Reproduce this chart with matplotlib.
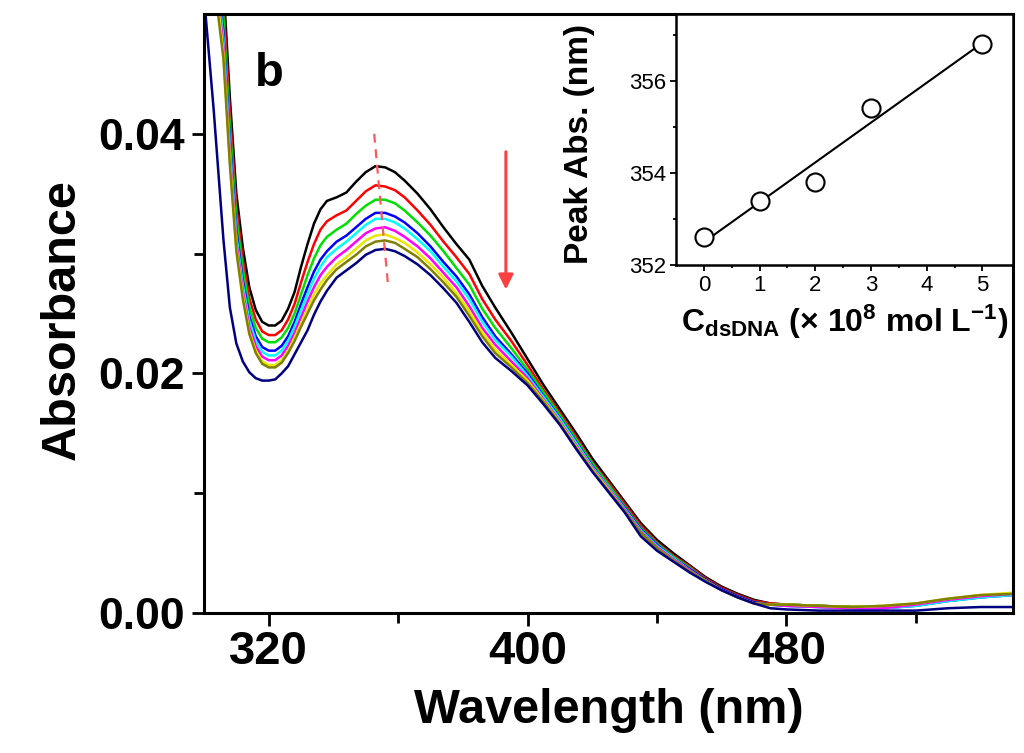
import numpy as np
import matplotlib
matplotlib.use('Agg')
import matplotlib.pyplot as plt
from matplotlib.ticker import FormatStrFormatter

plt.rcParams['font.family'] = ['Liberation Sans', 'DejaVu Sans']
plt.rcParams['mathtext.fontset'] = 'custom'
plt.rcParams['mathtext.rm'] = 'Liberation Sans'
plt.rcParams['mathtext.bf'] = 'Liberation Sans:bold'
plt.rcParams['mathtext.it'] = 'Liberation Sans:italic'
plt.rcParams['mathtext.default'] = 'bf'

# wavelength grid (nm)
wl = [300, 303, 306, 308, 310, 312, 314, 316, 318, 320, 322, 324, 326, 328, 330,
      332, 334, 336, 338, 341, 344, 347, 350, 353, 356, 359, 362, 366, 370, 374,
      378, 382, 386, 390, 395, 400, 405, 410, 415, 420, 425, 430, 435, 440, 445,
      450, 455, 460, 465, 470, 475, 480, 490, 500, 510, 520, 530, 540, 550]

abs_black = [0.0800, 0.0640, 0.0525, 0.0430, 0.0350, 0.0305, 0.0272, 0.0253, 0.0243, 0.0240,
             0.0240, 0.0244, 0.0254, 0.0268, 0.0289, 0.0308, 0.0325, 0.0337, 0.0344, 0.0347,
             0.0351, 0.0360, 0.0368, 0.0373, 0.0372, 0.0368, 0.0361, 0.0350, 0.0337, 0.0322,
             0.0308, 0.0295, 0.0273, 0.0255, 0.0234, 0.0212, 0.0190, 0.0170, 0.0150, 0.0129,
             0.0111, 0.0093, 0.0075, 0.0061, 0.0050, 0.0040, 0.0030, 0.0022, 0.0016, 0.0011,
             0.0008, 0.0007, 0.0006, 0.0005, 0.0005, 0.0007, 0.0011, 0.0014, 0.0016]
abs_red = [0.0760, 0.0610, 0.0510, 0.0417, 0.0339, 0.0295, 0.0263, 0.0245, 0.0235, 0.0232,
           0.0232, 0.0236, 0.0245, 0.0258, 0.0276, 0.0293, 0.0308, 0.0320, 0.0327, 0.0332,
           0.0336, 0.0344, 0.0352, 0.0357, 0.0356, 0.0353, 0.0347, 0.0336, 0.0324, 0.0310,
           0.0297, 0.0283, 0.0262, 0.0245, 0.0227, 0.0207, 0.0186, 0.0167, 0.0147, 0.0126,
           0.0109, 0.0091, 0.0073, 0.0059, 0.0048, 0.0039, 0.0029, 0.0021, 0.0015, 0.0010,
           0.0008, 0.0007, 0.0006, 0.0005, 0.0005, 0.0007, 0.0011, 0.0014, 0.0016]
abs_green = [0.0740, 0.0590, 0.0497, 0.0406, 0.0330, 0.0287, 0.0256, 0.0238, 0.0229, 0.0226,
             0.0226, 0.0230, 0.0238, 0.0250, 0.0266, 0.0282, 0.0296, 0.0307, 0.0314, 0.0320,
             0.0325, 0.0333, 0.0340, 0.0345, 0.0345, 0.0342, 0.0336, 0.0326, 0.0315, 0.0302,
             0.0288, 0.0274, 0.0254, 0.0238, 0.0221, 0.0203, 0.0184, 0.0165, 0.0145, 0.0125,
             0.0107, 0.0089, 0.0071, 0.0058, 0.0047, 0.0038, 0.0028, 0.0020, 0.0014, 0.0009,
             0.0007, 0.0007, 0.0006, 0.0005, 0.0005, 0.0007, 0.0011, 0.0014, 0.0016]
abs_blue = [0.0720, 0.0570, 0.0485, 0.0396, 0.0320, 0.0278, 0.0248, 0.0231, 0.0222, 0.0219,
            0.0219, 0.0223, 0.0231, 0.0243, 0.0258, 0.0272, 0.0285, 0.0295, 0.0302, 0.0310,
            0.0315, 0.0322, 0.0329, 0.0334, 0.0334, 0.0331, 0.0326, 0.0317, 0.0306, 0.0293,
            0.0281, 0.0266, 0.0247, 0.0231, 0.0216, 0.0200, 0.0181, 0.0163, 0.0143, 0.0123,
            0.0105, 0.0088, 0.0070, 0.0057, 0.0046, 0.0037, 0.0028, 0.0020, 0.0014, 0.0009,
            0.0007, 0.0006, 0.0005, 0.0004, 0.0004, 0.0006, 0.0010, 0.0013, 0.0015]
abs_cyan = [0.0710, 0.0560, 0.0479, 0.0390, 0.0315, 0.0274, 0.0244, 0.0227, 0.0218, 0.0215,
            0.0215, 0.0219, 0.0227, 0.0239, 0.0253, 0.0266, 0.0279, 0.0289, 0.0297, 0.0304,
            0.0310, 0.0317, 0.0324, 0.0329, 0.0329, 0.0326, 0.0321, 0.0312, 0.0302, 0.0289,
            0.0277, 0.0262, 0.0243, 0.0228, 0.0214, 0.0198, 0.0180, 0.0162, 0.0142, 0.0122,
            0.0105, 0.0087, 0.0069, 0.0056, 0.0046, 0.0036, 0.0027, 0.0019, 0.0013, 0.0008,
            0.0007, 0.0006, 0.0005, 0.0004, 0.0004, 0.0006, 0.0010, 0.0013, 0.0015]
abs_magenta = [0.0700, 0.0550, 0.0473, 0.0384, 0.0310, 0.0269, 0.0239, 0.0223, 0.0214, 0.0211,
               0.0211, 0.0215, 0.0223, 0.0234, 0.0247, 0.0260, 0.0272, 0.0282, 0.0289, 0.0297,
               0.0303, 0.0310, 0.0317, 0.0321, 0.0322, 0.0319, 0.0314, 0.0306, 0.0296, 0.0284,
               0.0272, 0.0256, 0.0238, 0.0224, 0.0210, 0.0196, 0.0178, 0.0160, 0.0140, 0.0121,
               0.0104, 0.0086, 0.0068, 0.0055, 0.0045, 0.0036, 0.0027, 0.0019, 0.0013, 0.0008,
               0.0007, 0.0006, 0.0005, 0.0004, 0.0004, 0.0007, 0.0011, 0.0014, 0.0016]
abs_yellow = [0.0690, 0.0540, 0.0467, 0.0378, 0.0305, 0.0265, 0.0235, 0.0219, 0.0210, 0.0207,
              0.0207, 0.0211, 0.0219, 0.0230, 0.0242, 0.0254, 0.0266, 0.0275, 0.0282, 0.0291,
              0.0297, 0.0304, 0.0311, 0.0315, 0.0316, 0.0313, 0.0309, 0.0301, 0.0291, 0.0280,
              0.0267, 0.0252, 0.0234, 0.0220, 0.0207, 0.0194, 0.0177, 0.0159, 0.0139, 0.0120,
              0.0103, 0.0085, 0.0067, 0.0054, 0.0044, 0.0035, 0.0027, 0.0019, 0.0013, 0.0008,
              0.0007, 0.0007, 0.0006, 0.0005, 0.0006, 0.0008, 0.0012, 0.0015, 0.0017]
abs_olive = [0.0680, 0.0530, 0.0463, 0.0374, 0.0302, 0.0262, 0.0233, 0.0217, 0.0208, 0.0205,
             0.0205, 0.0209, 0.0217, 0.0227, 0.0239, 0.0250, 0.0261, 0.0270, 0.0278, 0.0287,
             0.0293, 0.0299, 0.0306, 0.0310, 0.0311, 0.0309, 0.0304, 0.0297, 0.0287, 0.0276,
             0.0264, 0.0248, 0.0231, 0.0217, 0.0205, 0.0192, 0.0176, 0.0158, 0.0138, 0.0119,
             0.0102, 0.0085, 0.0067, 0.0054, 0.0044, 0.0035, 0.0027, 0.0019, 0.0013, 0.0008,
             0.0007, 0.0007, 0.0006, 0.0005, 0.0006, 0.0008, 0.0012, 0.0015, 0.0016]
abs_navy = [0.0515, 0.0420, 0.0312, 0.0255, 0.0225, 0.0210, 0.0201, 0.0196, 0.0194, 0.0194,
            0.0195, 0.0200, 0.0206, 0.0216, 0.0226, 0.0236, 0.0249, 0.0260, 0.0269, 0.0280,
            0.0286, 0.0292, 0.0299, 0.0303, 0.0304, 0.0302, 0.0298, 0.0291, 0.0282, 0.0271,
            0.0259, 0.0243, 0.0226, 0.0213, 0.0202, 0.0190, 0.0174, 0.0157, 0.0137, 0.0118,
            0.0101, 0.0084, 0.0064, 0.0052, 0.0043, 0.0034, 0.0026, 0.0019, 0.0013, 0.0008,
            0.0004, 0.0003, 0.0002, 0.0002, 0.0002, 0.0002, 0.0004, 0.0005, 0.0005]

spectra = [abs_black, abs_red, abs_green, abs_blue, abs_cyan,
           abs_magenta, abs_yellow, abs_olive, abs_navy]
colors = ['#000000', '#ff0000', '#00e000', '#0000ff', '#00ffff',
          '#ff00ff', '#e8e800', '#808000', '#000080']

# inset: peak position vs dsDNA concentration
conc = [0, 1, 2, 3, 5]
peak = [352.6, 353.4, 353.8, 355.4, 356.8]

# dashed guide through the peaks, arrow showing decrease
guide_y = [0.0400, 0.0276]
arrow_x = 393.3
arrow_y = [0.0385, 0.0270]

fig = plt.figure(figsize=(10.24, 7.53), dpi=100)
ax = fig.add_axes([0.1992, 0.1859, 0.7900, 0.7955])

for a, c in zip(spectra, colors):
    ax.plot(wl, a, color=c, lw=1.8)

ax.plot([peak[0], peak[-1]], guide_y, color='#ff5a5a', lw=1.6, ls=(0, (4, 3)))
ax.annotate('', xy=(arrow_x, arrow_y[1]), xytext=(arrow_x, arrow_y[0]),
            arrowprops=dict(arrowstyle='-|>', color='#ff4040', lw=2.2,
                            mutation_scale=22, shrinkA=0, shrinkB=0))
ax.text(315.8, 0.0440, 'b', fontsize=34, fontweight='bold', va='baseline')

ax.set_xlim(300, 550)
ax.set_ylim(0, 0.05)
ax.set_xticks([320, 400, 480])
ax.set_xticks([360, 440, 520], minor=True)
ax.set_yticks([0, 0.02, 0.04])
ax.set_yticks([0.01, 0.03], minor=True)
ax.yaxis.set_major_formatter(FormatStrFormatter('%.2f'))
for s in ax.spines.values():
    s.set_linewidth(2.2)
ax.tick_params(which='both', direction='out', width=2, top=False, right=False)
ax.tick_params(which='major', length=9)
ax.tick_params(which='minor', length=7)
ax.tick_params(axis='x', labelsize=34, pad=3)
ax.tick_params(axis='y', labelsize=32, pad=5)
for lab in ax.get_xticklabels() + ax.get_yticklabels():
    lab.set_fontweight('bold')

ax.set_xlabel('Wavelength (nm)', fontsize=35, fontweight='bold')
ax.xaxis.set_label_coords(0.5, -0.125)
ax.set_ylabel('Absorbance', fontsize=35, fontweight='bold')
ax.yaxis.set_label_coords(-0.147, 0.49)

# inset
ins = fig.add_axes([0.6602, 0.6481, 0.3291, 0.3333])
ins.plot(conc, peak, 'o', mfc='white', mec='black', ms=13, mew=1.5, zorder=3)
k, b0 = np.polyfit(conc, peak, 1)
xfit = np.array([conc[0], conc[-1]])
ins.plot(xfit, k * xfit + b0, color='black', lw=1.5)
ins.set_xlim(-0.5, 5.55)
ins.set_ylim(352, 357.45)
ins.set_xticks([0, 1, 2, 3, 4, 5])
ins.set_xticks([0.5, 1.5, 2.5, 3.5, 4.5], minor=True)
ins.set_yticks([352, 354, 356])
ins.set_yticks([353, 355, 357], minor=True)
for s in ins.spines.values():
    s.set_linewidth(1.8)
ins.tick_params(which='both', direction='out', width=1.3, top=False, right=False,
                labelsize=16, pad=3)
ins.tick_params(which='major', length=4)
ins.tick_params(which='minor', length=2.5)
ins.set_ylabel('Peak Abs. (nm)', fontsize=24, fontweight='bold')
ins.yaxis.set_label_coords(-0.24, 0.484)
ins.set_xlabel(r'$C_{dsDNA}$ (× 10$^{8}$ mol L$^{-1}$)', fontsize=23, fontweight='bold')
ins.xaxis.set_label_coords(0.5, -0.15)

fig.savefig('out.png', dpi=100)
